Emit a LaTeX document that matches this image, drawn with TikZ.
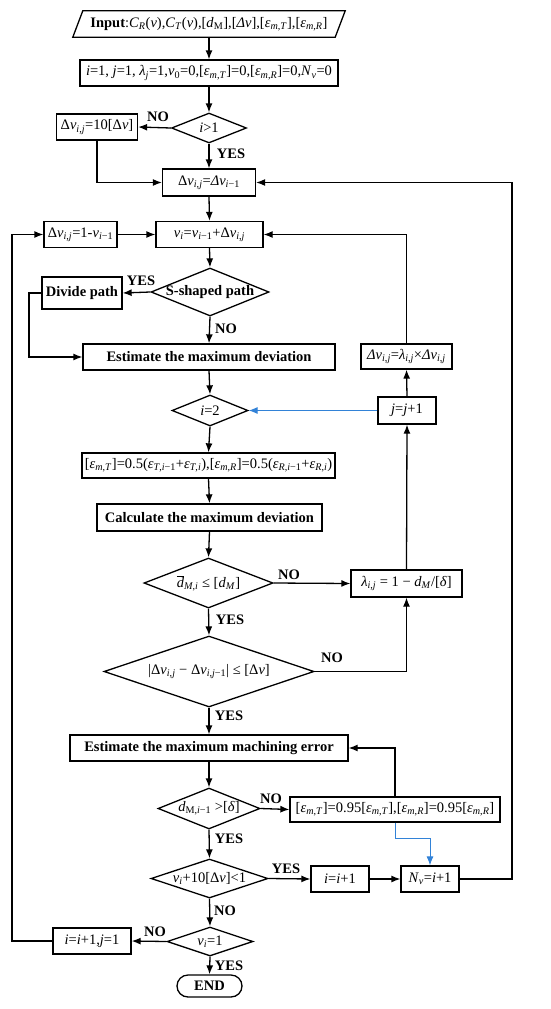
\documentclass[tikz,border=0pt]{standalone}
\usepackage{fontspec}
\setmainfont{Liberation Serif}
\usetikzlibrary{shapes.geometric,arrows.meta,calc}
\newcommand\mi[1]{\textit{#1}}
\newcommand\sbx[1]{\textsubscript{#1}}
\definecolor{lnblue}{RGB}{50,130,215}
\tikzset{
  base/.style={draw, line width=1.3pt, inner sep=0pt, font=\fontsize{14.5}{16}\selectfont},
  stepbox/.style={base, rectangle},
  dia/.style={base, diamond},
  term/.style={base, rounded rectangle},
  arr/.style={line width=1.3pt, -{Latex[length=9pt,width=7pt]}},
  barr/.style={line width=0.9pt, draw=lnblue, -{Latex[length=9pt,width=7pt]}},
  lbl/.style={font=\bfseries\fontsize{14.5}{16}\selectfont, inner sep=0pt}
}
\usetikzlibrary{shapes.misc}
\begin{document}
\begin{tikzpicture}[x=1pt,y=-1pt]
\useasboundingbox (0,0) rectangle (550,1009);
% input parallelogram
\node[inner sep=0pt, minimum width=262pt, minimum height=26pt, font=\fontsize{14.5}{16}\selectfont] (in) at (209,24)
 {\textbf{Input}:\mi{C}\sbx{\mi{R}}(\mi{v}),\mi{C}\sbx{\mi{T}}(\mi{v}),[\mi{d}\sbx{M}],[\mi{Δv}],[\mi{ε}\sbx{\mi{m},\mi{T}}],[\mi{ε}\sbx{\mi{m},\mi{R}}]};
\draw[line width=1.3pt] ($(in.south west)+(-5,0)$) -- ($(in.north west)+(5,0)$) -- ($(in.north east)+(5,0)$) -- ($(in.south east)+(-5,0)$) -- cycle;
\node[stepbox, minimum width=258pt, minimum height=26pt] (init) at (209,73)
 {\mi{i}=1, \mi{j}=1, \mi{λ}\sbx{\mi{j}}=1,\mi{v}\sbx{0}=0,[\mi{ε}\sbx{\mi{m},\mi{T}}]=0,[\mi{ε}\sbx{\mi{m},\mi{R}}]=0,\mi{N}\sbx{\mi{v}}=0};
\node[dia, minimum width=75pt, minimum height=30pt] (d1) at (209,128) {\makebox[0pt]{\mi{i}>1}};
\node[stepbox, minimum width=81pt, minimum height=26pt] (b10) at (97,127) {Δ\mi{v}\sbx{\mi{i},\mi{j}}=10[Δ\mi{v}]};
\node[stepbox, minimum width=93pt, minimum height=27pt] (dv) at (209,182.5) {Δ\mi{v}\sbx{\mi{i},\mi{j}}=\mi{Δv}\sbx{\mi{i}−1}};
\node[stepbox, minimum width=107pt, minimum height=26pt] (vi) at (209.5,234.5) {\mi{v}\sbx{\mi{i}}=\mi{v}\sbx{\mi{i}−1}+Δ\mi{v}\sbx{\mi{i},\mi{j}}};
\node[stepbox, minimum width=73pt, minimum height=26pt] (dm1) at (80.5,234.5) {Δ\mi{v}\sbx{\mi{i},\mi{j}}=1-\mi{v}\sbx{\mi{i}−1}};
\node[dia, minimum width=118pt, minimum height=48pt] (s) at (210,292) {\makebox[0pt]{\textbf{S-shaped path}}};
\node[stepbox, minimum width=80pt, minimum height=32pt] (div) at (82,293) {\textbf{Divide path}};
\node[stepbox, minimum width=252pt, minimum height=26pt] (est) at (209,357) {\textbf{Estimate the maximum deviation}};
\node[stepbox, minimum width=91pt, minimum height=25pt] (dvl) at (406.5,356.5) {\mi{Δv}\sbx{\mi{i},\mi{j}}=\mi{λ}\sbx{\mi{i},\mi{j}}×\mi{Δv}\sbx{\mi{i},\mi{j}}};
\node[dia, minimum width=76pt, minimum height=31pt] (i2) at (210,410.5) {\makebox[0pt]{\mi{i}=2}};
\node[stepbox, minimum width=58pt, minimum height=27pt] (jj) at (407,410.5) {\mi{j}=\mi{j}+1};
\node[stepbox, minimum width=253pt, minimum height=25pt] (eps) at (208.5,465.5)
 {[\mi{ε}\sbx{\mi{m},\mi{T}}]=0.5(\mi{ε}\sbx{\mi{T},\mi{i}−1}+\mi{ε}\sbx{\mi{T},\mi{i}}),[\mi{ε}\sbx{\mi{m},\mi{R}}]=0.5(\mi{ε}\sbx{\mi{R},\mi{i}−1}+\mi{ε}\sbx{\mi{R},\mi{i}})};
\node[stepbox, minimum width=225pt, minimum height=27pt] (calc) at (209.5,517.5) {\textbf{Calculate the maximum deviation}};
\node[dia, minimum width=129pt, minimum height=50pt] (d3) at (208.5,583)
 {\makebox[0pt]{$\overline{\mbox{\mi{d}}}$\sbx{\mi{M},\mi{i}} ≤ [\mi{d}\sbx{\mi{M}}]}};
\node[stepbox, minimum width=111pt, minimum height=27pt] (lam) at (406.5,583.5) {\mi{λ}\sbx{\mi{i},\mi{j}} = 1 − \mi{d}\sbx{\mi{M}}/[\mi{δ}]};
\node[dia, minimum width=210pt, minimum height=71pt] (d4) at (209,671.5)
 {\makebox[0pt]{|Δ\mi{v}\sbx{\mi{i},\mi{j}} − Δ\mi{v}\sbx{\mi{i},\mi{j}−1}| ≤ [Δ\mi{v}]}};
\node[stepbox, minimum width=278pt, minimum height=26pt] (mach) at (209,748) {\textbf{Estimate the maximum machining error}};
\node[dia, minimum width=102pt, minimum height=41pt] (d5) at (209,808.5) {\makebox[0pt]{\mi{d}\sbx{M,\mi{i}−1} >[\mi{δ}]}};
\node[stepbox, minimum width=210pt, minimum height=25pt] (e95) at (395,809.5)
 {[\mi{ε}\sbx{\mi{m},\mi{T}}]=0.95[\mi{ε}\sbx{\mi{m},\mi{T}}],[\mi{ε}\sbx{\mi{m},\mi{R}}]=0.95[\mi{ε}\sbx{\mi{m},\mi{R}}]};
\node[dia, minimum width=117pt, minimum height=39pt] (d6) at (209.5,878.5) {\makebox[0pt]{\mi{v}\sbx{\mi{i}}+10[Δ\mi{v}]<1}};
\node[stepbox, minimum width=58pt, minimum height=26pt] (ii) at (340,879) {\mi{i}=\mi{i}+1};
\node[stepbox, minimum width=58pt, minimum height=26pt] (nv) at (430,879) {\mi{N}\sbx{\mi{v}}=\mi{i}+1};
\node[dia, minimum width=86pt, minimum height=29pt] (d7) at (210,941.5) {\makebox[0pt]{\mi{v}\sbx{\mi{i}}=1}};
\node[stepbox, minimum width=78pt, minimum height=26pt] (iij) at (92,941) {\mi{i}=\mi{i}+1,\mi{j}=1};
\node[term, minimum width=65pt, minimum height=22pt] (end) at (209.5,986) {\textbf{END}};
% helper coordinates
\coordinate (rt) at (512,182.5);
\coordinate (lt) at (12,234.5);
\coordinate (dl) at (29,293);
% connectors
\draw[arr] (in) -- (init);
\draw[arr] (init) -- (d1);
\draw[arr] (d1.west) -- (b10.east);
\draw[arr] (d1.south) -- (dv.north);
\draw[arr] (b10.south) |- (dv.west);
\draw[arr] (nv.east) -| (rt) -- (dv.east);
\draw[arr] (dv.south) -- (vi.north);
\draw[arr] (dm1.east) -- (vi.west);
\draw[arr] (iij.west) -| (lt) -- (dm1.west);
\draw[arr] (dvl.north) |- (vi.east);
\draw[arr] (vi.south) -- (s.north);
\draw[arr] (s.west) -- (div.east);
\draw[arr] (s.south) -- (est.north);
\draw[arr] (div.west) -- (dl) |- (est.west);
\draw[arr] (est.south) -- (i2.north);
\draw[barr] (jj.west) -- (i2.east);
\draw[arr] (jj.north) -- (dvl.south);
\draw[arr] (i2.south) -- (eps.north);
\draw[arr] (eps.south) -- (calc.north);
\draw[arr] (calc.south) -- (d3.north);
\draw[arr] (d3.east) -- (lam.west);
\draw[arr] (lam.north) -- (jj.south);
\draw[arr] (d3.south) -- (d4.north);
\draw[arr] (d4.east) -| (lam.south);
\draw[arr] (d4.south) -- (mach.north);
\draw[arr] (mach.south) -- (d5.north);
\draw[arr] (d5.east) -- (e95.west);
\draw[arr] (e95.north) |- (mach.east);
\draw[barr] (e95.south) -- ++(0,16) -| (nv.north);
\draw[arr] (d5.south) -- (d6.north);
\draw[arr] (d6.east) -- (ii.west);
\draw[arr] (ii.east) -- (nv.west);
\draw[arr] (d6.south) -- (d7.north);
\draw[arr] (d7.west) -- (iij.east);
\draw[arr] (d7.south) -- (end.north);
% labels
\node[lbl] (l1) at (158,117) {NO};
\node[lbl] (l2) at (231,154) {YES};
\node[lbl] (l3) at (141,281) {YES};
\node[lbl] (l4) at (226,329) {NO};
\node[lbl] (l5) at (289,575) {NO};
\node[lbl] (l6) at (230,620) {YES};
\node[lbl] (l7) at (332,658) {NO};
\node[lbl] (l8) at (229,716) {YES};
\node[lbl] (l9) at (271,799) {NO};
\node[lbl] (l10) at (229,839) {YES};
\node[lbl] (l11) at (286,869) {YES};
\node[lbl] (l12) at (225,911) {NO};
\node[lbl] (l13) at (155,932) {NO};
\node[lbl] (l14) at (229,966) {YES};
\end{tikzpicture}
\end{document}
